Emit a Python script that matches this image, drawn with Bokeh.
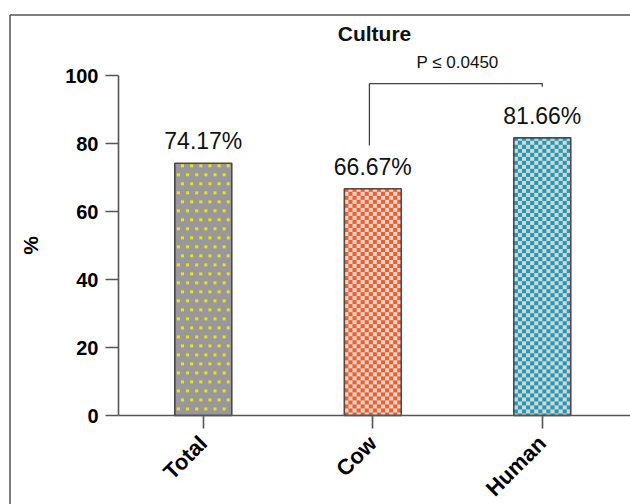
import numpy as np
from bokeh.plotting import figure
from bokeh.models import Range1d, FixedTicker
from bokeh.core.properties import value
from bokeh.embed import file_html
from bokeh.resources import INLINE

# ---- data ----
categories = ["Total", "Cow", "Human"]
percent = [74.17, 66.67, 81.66]
value_labels = ["74.17%", "66.67%", "81.66%"]
y_ticks = [0, 20, 40, 60, 80, 100]
title_text = "Culture"
y_label = "%"
comparison = ["Cow", "Human"]
p_label = "P \u2264 0.0450"
bracket_top = 97.6
bracket_left_bottom = 79.4
bracket_right_bottom = 96.7

# ---- styles / layout ----
FONT = "Liberation Sans"
fg_colors = ["#f2e300", "#ff5a1f", "#1e9bb6"]
bg_colors = ["#98989c", "#d9d9d9", "#d6d6d6"]
kinds = ["dots", "checker", "checker"]
AX = "#555555"

W, H = 630, 504
AXIS_X_PX, ZERO_Y_PX = 118, 415      # where the axes cross, in pixels
FIRST_CAT_PX = 202.8
PX_PER_X, PX_PER_Y = 169.5, 3.4
BORDER_X_PX, BORDER_Y_PX = 9.5, 14.5

x_lo = 1 - FIRST_CAT_PX / PX_PER_X
x_hi = 1 + (W - FIRST_CAT_PX) / PX_PER_X
y_lo = -(H - ZERO_Y_PX) / PX_PER_Y
y_hi = ZERO_Y_PX / PX_PER_Y
axis_x = 1 - (FIRST_CAT_PX - AXIS_X_PX) / PX_PER_X
bar_w = 0.336

xs = [i + 1 for i in range(len(categories))]


def hex_rgba(h):
    h = h.lstrip("#")
    return [int(h[0:2], 16), int(h[2:4], 16), int(h[4:6], 16), 255]


def pattern_image(kind, fg, bg, w_px, h_px):
    img = np.empty((h_px, w_px), dtype=np.uint32)
    view = img.view(dtype=np.uint8).reshape((h_px, w_px, 4))
    rr, cc = np.mgrid[0:h_px, 0:w_px]
    if kind == "checker":
        mask = ((rr // 4 + cc // 4) % 2) == 0
    else:
        row = (rr - 1) // 9
        offs = np.where(row % 2 == 0, 6, 2)
        mask = (((rr - 1) % 9) < 3) & (((cc - offs) % 9) < 3)
    view[...] = hex_rgba(bg)
    view[mask] = hex_rgba(fg)
    return np.ascontiguousarray(np.flipud(img))


p = figure(width=W, height=H, output_backend="svg", toolbar_location=None,
           x_range=Range1d(x_lo, x_hi), y_range=Range1d(y_lo, y_hi),
           min_border=0)
p.outline_line_color = None
p.xgrid.visible = False
p.ygrid.visible = False
p.background_fill_color = "white"
p.border_fill_color = "white"

# outer picture border (left and top edges)
bx = 1 - (FIRST_CAT_PX - BORDER_X_PX) / PX_PER_X
by = (ZERO_Y_PX - BORDER_Y_PX) / PX_PER_Y
p.segment(x0=[bx, bx], y0=[y_lo, by], x1=[bx, x_hi + 0.2], y1=[by, by],
          line_color="#555555", line_width=1.5)

# bars: patterned fills + outlines
bw_px = int(round(bar_w * PX_PER_X))
imgs, ix, idw, idh = [], [], [], []
for x, v, k, fg, bg in zip(xs, percent, kinds, fg_colors, bg_colors):
    imgs.append(pattern_image(k, fg, bg, bw_px, int(round(v * PX_PER_Y))))
    ix.append(x - bar_w / 2)
    idw.append(bar_w)
    idh.append(v)
p.image_rgba(image=imgs, x=ix, y=[0] * len(xs), dw=idw, dh=idh)
p.vbar(x=xs, top=percent, width=bar_w, fill_color=None,
       line_color="#4a4a4a", line_width=1.6)

# value labels
p.text(x=xs, y=percent, text=value_labels, text_align="center",
       text_baseline="middle", y_offset=-22,
       text_font=value(FONT), text_font_size="23px", text_color="#111111")

# title
p.text(x=[(axis_x + x_hi) / 2], y=[(ZERO_Y_PX - 33) / PX_PER_Y], text=[title_text],
       text_align="center", text_baseline="middle", text_font=value(FONT),
       text_font_size="21px", text_font_style="bold", text_color="#111111")

# significance bracket
xa = xs[categories.index(comparison[0])]
xb = xs[categories.index(comparison[1])]
p.line(x=[xa - 0.02, xa - 0.02, xb, xb],
       y=[bracket_left_bottom, bracket_top, bracket_top, bracket_right_bottom],
       line_color="#444444", line_width=1.3)
p.text(x=[(xa + xb) / 2], y=[bracket_top + 6.2], text=[p_label],
       text_align="center", text_baseline="middle", text_font=value(FONT),
       text_font_size="17px", text_color="#111111")

# axes, crossing at (axis_x, 0)
p.xaxis.fixed_location = 0
p.yaxis.fixed_location = axis_x
p.xaxis.bounds = (axis_x, x_hi + 0.2)
p.yaxis.bounds = (0, 100)
p.xaxis.ticker = FixedTicker(ticks=xs)
p.xaxis.major_label_overrides = {x: c for x, c in zip(xs, categories)}
p.xaxis.major_label_orientation = np.pi / 4
p.yaxis.ticker = FixedTicker(ticks=y_ticks)
p.yaxis.axis_label = y_label
p.yaxis.axis_label_text_font = FONT
p.yaxis.axis_label_text_font_style = "bold"
p.yaxis.axis_label_text_font_size = "21px"
p.yaxis.axis_label_text_color = "#000000"
p.yaxis.axis_label_standoff = 20
for ax in (p.xaxis[0], p.yaxis[0]):
    ax.axis_line_color = AX
    ax.axis_line_width = 1.6
    ax.major_tick_line_color = AX
    ax.major_tick_line_width = 1.6
    ax.major_tick_out = 13
    ax.major_tick_in = 0
    ax.minor_tick_line_color = None
    ax.major_label_text_font = FONT
    ax.major_label_text_font_style = "bold"
    ax.major_label_text_color = "#000000"
p.yaxis.major_label_text_font_size = "20px"
p.yaxis.major_label_standoff = 7
p.xaxis.major_label_text_font_size = "22px"
p.xaxis.major_label_standoff = 11

open("out.html", "w").write(file_html(p, INLINE))
